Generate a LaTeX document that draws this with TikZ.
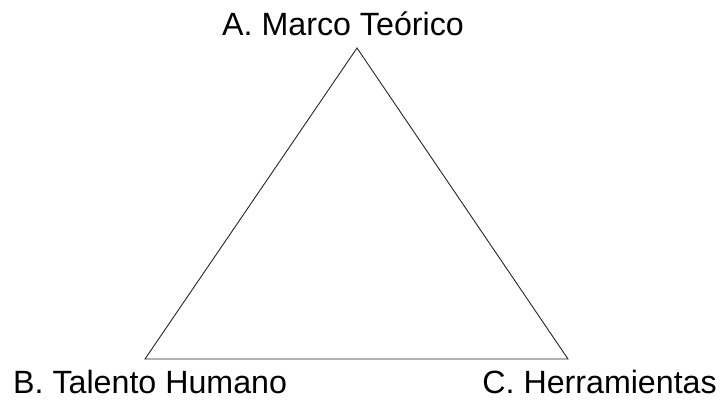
\documentclass[tikz,border=0pt]{standalone}
\usepackage{fontspec}
\setmainfont{Liberation Sans}
\begin{document}
\begin{tikzpicture}[x=1pt,y=1pt,
  lbl/.style={inner sep=0pt,font=\fontsize{32.2}{36}\selectfont},
  edge/.style={draw=black!85,line width=0.9pt,line join=miter}]
\useasboundingbox (0,0) rectangle (720,403);
\coordinate (pa) at (357,355);
\coordinate (pb) at (145,44);
\coordinate (pc) at (568,44);
\draw[edge] (pa) -- (pb) -- (pc) -- cycle;
\node[lbl,anchor=base] (la) at (343,367) {A. Marco Teórico};
\node[lbl,anchor=base west] (lb) at (13,9) {B. Talento Humano};
\node[lbl,anchor=base east] (lc) at (717,9) {C. Herramientas};
\end{tikzpicture}
\end{document}
